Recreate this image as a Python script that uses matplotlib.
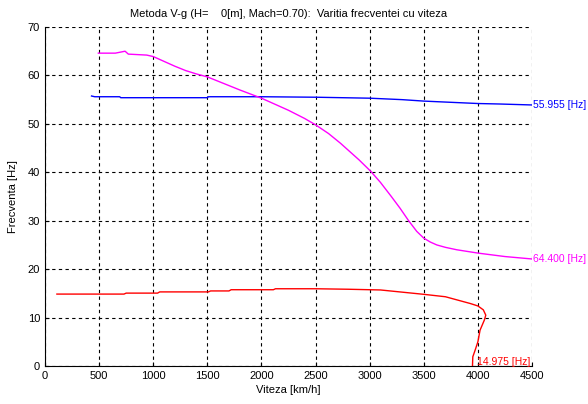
import matplotlib
matplotlib.use("Agg")
import matplotlib.pyplot as plt

plt.rcParams['font.family'] = ['Liberation Sans', 'DejaVu Sans']

blue_x = [430, 460, 690, 700, 1500, 1510, 2000, 2500, 3000, 3300, 3500, 3800, 4000, 4200, 4500]
blue_y = [55.75, 55.6, 55.6, 55.4, 55.4, 55.6, 55.6, 55.5, 55.3, 55.0, 54.7, 54.4, 54.2, 54.1, 53.9]

mag_x = [493, 650, 740, 770, 940, 1000, 1100, 1200, 1300, 1400, 1500, 1800, 2000, 2250, 2400, 2500, 2620, 2730, 2900, 3010, 3100, 3200, 3280, 3360, 3435, 3500, 3560, 3620, 3700, 3805, 4005, 4250, 4500]
mag_y = [64.6, 64.6, 65.0, 64.4, 64.2, 63.9, 62.9, 61.9, 61.0, 60.3, 59.7, 57.0, 55.3, 52.8, 51.1, 49.8, 48.0, 46.0, 42.6, 40.2, 37.9, 35.0, 32.6, 30.0, 27.8, 26.4, 25.6, 25.0, 24.5, 24.0, 23.3, 22.6, 22.1]

red_x = [110, 730, 750, 1040, 1060, 1510, 1530, 1700, 1720, 2110, 2130, 2500, 2800, 3100, 3500, 3700, 3930, 4000, 4050, 4073, 4060, 4020, 4000, 3975, 3953, 3950]
red_y = [14.85, 14.85, 15.05, 15.05, 15.3, 15.3, 15.5, 15.5, 15.75, 15.75, 15.95, 15.95, 15.85, 15.7, 14.8, 14.3, 12.9, 12.4, 11.6, 10.5, 9.5, 7.4, 5.0, 3.3, 1.9, 0.0]

xticks = [0, 500, 1000, 1500, 2000, 2500, 3000, 3500, 4000, 4500]
yticks = [0, 10, 20, 30, 40, 50, 60, 70]

fig = plt.figure(figsize=(5.88, 4.04), dpi=100)
ax = fig.add_axes([45/588, 1 - 366/404, 487/588, 339/404])

ax.plot(blue_x, blue_y, color='#0000ff', lw=1)
ax.plot(mag_x, mag_y, color='#ff00ff', lw=1)
ax.plot(red_x, red_y, color='#ff0000', lw=1)

ax.text(4505, 53.9, '55.955 [Hz]', color='#0000ff', fontsize=7.5, va='center', ha='left')
ax.text(4505, 22.1, '64.400 [Hz]', color='#ff00ff', fontsize=7.5, va='center', ha='left')
ax.text(3990, 0.8, '14.975 [Hz]', color='#ff0000', fontsize=7.5, va='center', ha='left')

ax.set_xlim(0, 4500)
ax.set_ylim(0, 70)
ax.set_xticks(xticks)
ax.set_yticks(yticks)
ax.tick_params(direction='in', labelsize=8, length=3)
ax.grid(True, color='black', linestyle=(0, (3, 3)), linewidth=0.8)
for s in ['top', 'right']:
    ax.spines[s].set_visible(False)
ax.set_xlabel('Viteza [km/h]', fontsize=8, labelpad=3)
ax.set_ylabel('Frecventa [Hz]', fontsize=8, labelpad=7)
ax.set_title('Metoda V-g (H=    0[m], Mach=0.70):  Varitia frecventei cu viteza', fontsize=8, pad=7)

fig.savefig('out.png', dpi=100)
